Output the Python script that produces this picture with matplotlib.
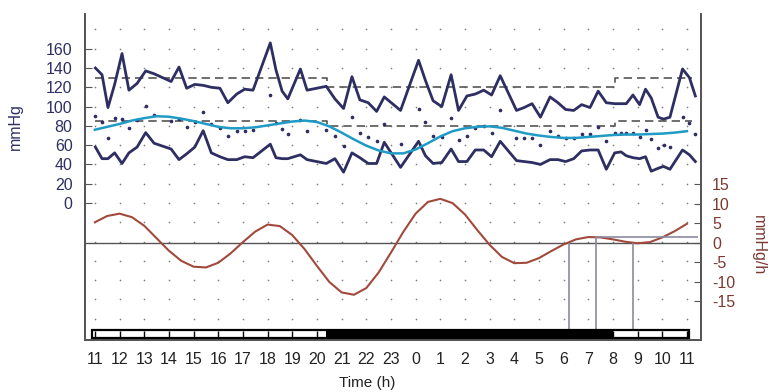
import matplotlib.pyplot as plt
import matplotlib.transforms as mtransforms
from matplotlib.patches import Rectangle
import numpy as np

plt.rcParams['font.family'] = ['Liberation Sans', 'DejaVu Sans']
plt.rcParams['axes.unicode_minus'] = False

navy = '#2e2e63'
brown = '#a14a3c'
brown_text = '#7a3a32'
grey = '#555555'

# clock hours along the axis (11:00 today to 11:00 tomorrow)
hours = list(range(11, 36))
hour_labels = [11, 12, 13, 14, 15, 16, 17, 18, 19, 20, 21, 22, 23,
               0, 1, 2, 3, 4, 5, 6, 7, 8, 9, 10, 11]

# ambulatory readings (time in hours from midnight of day 1)
read_times = [11.02, 11.29, 11.53, 11.8, 12.1, 12.38, 12.71, 13.06, 13.4, 14.09,
              14.41, 14.72, 15.05, 15.39, 15.72, 16.07, 16.39, 16.75, 17.07, 17.41,
              18.11, 18.34, 18.59, 18.82, 19.33, 19.6, 20.38, 20.73, 21.08, 21.42,
              21.74, 22.08, 22.42, 22.73, 23.39, 24.12, 24.4, 24.71, 25.06, 25.44,
              25.74, 26.08, 26.42, 26.76, 27.08, 27.43, 28.09, 28.4, 28.72, 29.06,
              29.45, 29.77, 30.08, 30.41, 30.73, 31.07, 31.4, 31.73, 32.07, 32.33,
              32.54, 32.81, 33.08, 33.32, 33.55, 33.83, 34.05, 34.31, 34.82, 35.1,
              35.34]
systolic = [140, 133, 99, 123, 155, 117, 124, 137, 134, 126,
            141, 119, 123, 122, 120, 119, 104, 113, 118, 117,
            166, 138, 116, 108, 139, 117, 121, 108, 98, 131,
            107, 104, 95, 110, 96, 148, 127, 106, 100, 133,
            96, 111, 113, 117, 112, 132, 96, 99, 103, 89,
            110, 104, 97, 96, 102, 99, 116, 104, 103, 103,
            103, 112, 102, 118, 109, 89, 87, 89, 139, 130,
            111]
diastolic = [58, 46, 46, 52, 41, 52, 58, 73, 62, 56,
             45, 51, 58, 75, 52, 48, 45, 45, 48, 47,
             61, 47, 46, 46, 50, 45, 41, 46, 32, 52,
             47, 41, 41, 63, 37, 64, 49, 41, 42, 56,
             43, 43, 55, 55, 48, 64, 44, 43, 42, 40,
             45, 45, 43, 46, 54, 55, 55, 35, 52, 53,
             49, 47, 46, 48, 33, 36, 38, 35, 55, 50,
             43]
mean_bp = [90, 84, 67, 88, 87, 78, 86, 101, 91, 85,
           87, 79, 84, 94, 82, 78, 70, 75, 75, 76,
           112, 83, 77, 72, 86, 75, 76, 70, 59, 89,
           73, 68, 64, 82, 61, 98, 84, 70, 68, 88,
           65, 70, 78, 80, 73, 96, 67, 67, 67, 60,
           75, 70, 67, 67, 72, 72, 79, 64, 73, 73,
           73, 73, 68, 76, 66, 57, 60, 58, 89, 83,
           72]

# fitted mean curve and its rate of change, every half hour
fit_times = np.arange(11, 35.01, 0.5)
fit_bp = [76, 79, 82, 85.5, 88, 90, 89.5, 87.5, 85, 82,
          79, 77.5, 77.5, 78.5, 80.5, 82.5, 84.5, 85.5, 84, 79.5,
          73, 66, 59.5, 54.5, 51.5, 51.5, 55.5, 62, 69, 74.5,
          77.5, 79, 79.5, 78, 75, 72, 70, 68.5, 67.5, 67.5,
          68.5, 69.5, 70.5, 71, 71, 71.5, 72, 73, 74.5]
rate = [5.3, 6.9, 7.5, 6.6, 4.4, 1.2, -2.0, -4.6, -6.1, -6.3,
        -5.1, -2.7, 0.2, 2.9, 4.7, 4.3, 2.0, -1.6, -5.9, -10.0,
        -12.7, -13.3, -11.6, -7.6, -2.5, 2.8, 7.5, 10.5, 11.3, 10.2,
        7.3, 3.3, -0.5, -3.6, -5.2, -5.1, -3.9, -2.1, -0.4, 0.9,
        1.5, 1.4, 0.9, 0.3, -0.1, 0.2, 1.4, 3.0, 4.9]

# day / night limits
limit_times = [11, 20.4, 32.1, 35.2]
sys_limit = [130, 120, 130, 130]
dia_limit = [85, 80, 85, 85]

# sleep period and morning rate markers
night_start = 20.35
night_end = 32.0
mark_times = [30.2, 31.3, 32.8]
mark_rate = [0, 1.5, 0]

fig = plt.figure(figsize=(7.68, 3.92), dpi=100)
ax = fig.add_axes([0.1107, 0.1327, 0.8021, 0.8316])
ax2 = ax.twinx()

ax.set_xlim(10.6, 35.57)
ax.set_ylim(-142, 196)
ax2.set_ylim(-24.9, 58.7)

# dotted grid
gx, gy = np.meshgrid(hours, np.arange(-120, 181, 20))
ax.scatter(gx.ravel(), gy.ravel(), s=1.5, color='#808080', lw=0, zorder=1)

ax.step(limit_times, sys_limit, where='post', color=grey, lw=1.2, ls=(0, (5, 3)), zorder=2)
ax.step(limit_times, dia_limit, where='post', color=grey, lw=1.2, ls=(0, (5, 3)), zorder=2)
ax.plot(read_times, systolic, color=navy, lw=2, zorder=3)
ax.plot(read_times, diastolic, color=navy, lw=2, zorder=3)
ax.scatter(read_times, mean_bp, s=7, color=navy, lw=0, zorder=3)
ax.plot(fit_times, fit_bp, color='#1f9bc6', lw=1.8, zorder=4, solid_joinstyle='round')

# rate of change panel
ax2.axhline(0, color=grey, lw=1)
ax2.plot(fit_times, rate, color=brown, lw=1.5, solid_joinstyle='round')
ax2.vlines(mark_times, -24.9, mark_rate, color='#8a8aa0', lw=1.2)
ax2.hlines(mark_rate[1], mark_times[1], 35.45, color='#8a8aa0', lw=1.2)

# day/night bar
trans = mtransforms.blended_transform_factory(ax2.transData, ax2.transAxes)
ax2.add_patch(Rectangle((10.9, 0.007), 24.2, 0.024, transform=trans,
                        facecolor='white', edgecolor='black', lw=1.6, zorder=6))
ax2.add_patch(Rectangle((night_start, 0.007), night_end - night_start, 0.024,
                        transform=trans, facecolor='black', edgecolor='black', lw=0, zorder=7))
ax2.vlines(hours, 0.007, 0.027, transform=trans, color='black', lw=1, zorder=6)

for a in (ax, ax2):
    a.spines['top'].set_visible(False)
    for s in ('left', 'right', 'bottom'):
        a.spines[s].set_color(grey)
        a.spines[s].set_linewidth(1.3)

ax.set_xticks(hours)
ax.set_xticklabels(hour_labels)
ax.tick_params(axis='x', length=0, pad=9, labelsize=11.5, labelcolor='#222222')
ax.set_yticks(range(0, 161, 20))
ax.tick_params(axis='y', direction='in', length=5, color=grey, pad=9,
               labelsize=11.5, labelcolor=navy)
ax2.set_yticks(range(-15, 16, 5))
ax2.tick_params(axis='y', direction='in', length=5, color=grey, pad=8,
                labelsize=11.5, labelcolor=brown_text)

ax.set_xlabel('Time (h)', fontsize=11, color='#222222')
ax.xaxis.set_label_coords(0.458, -0.11)
ax.set_ylabel('mmHg', fontsize=11.5, color=navy)
ax.yaxis.set_label_coords(-0.1, 0.656)
ax2.set_ylabel('mmHg/h', fontsize=11.5, color=brown_text, rotation=270, va='center')
ax2.yaxis.set_label_coords(1.093, 0.29)

plt.savefig('out.png', dpi=100)
